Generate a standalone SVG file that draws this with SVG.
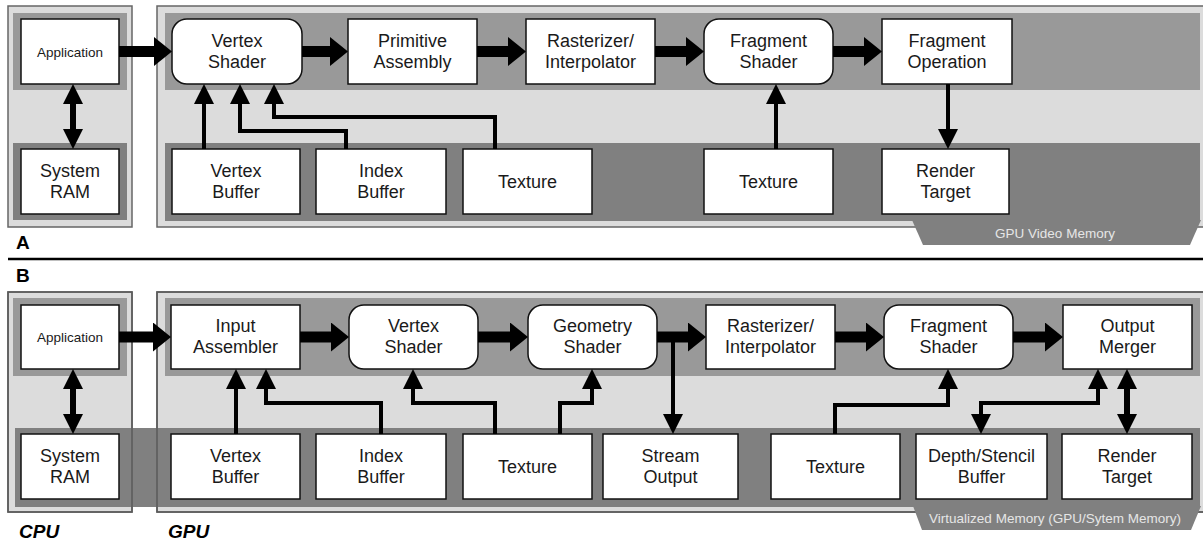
<svg xmlns="http://www.w3.org/2000/svg" width="1203" height="542" viewBox="0 0 1203 542">
<style>
.bg{fill:#dcdcdc;stroke:#666;stroke-width:1.5}
.ol{fill:none;stroke:#5a5a5a;stroke-width:1.5}
.b1{fill:#999}
.b2{fill:#808080}
.n{fill:#fff;stroke:#111;stroke-width:1.5}
.t{font-family:"Liberation Sans",Arial,sans-serif;font-size:18px;fill:#1a1a1a;text-anchor:middle}
.ts{font-family:"Liberation Sans",Arial,sans-serif;font-size:13.5px;fill:#1a1a1a;text-anchor:middle}
.tab{font-family:"Liberation Sans",Arial,sans-serif;font-size:13.5px;fill:#e6e6e6;text-anchor:middle}
.lbl{font-family:"Liberation Sans",Arial,sans-serif;font-size:19px;font-weight:bold;fill:#000}
.thick{fill:none;stroke:#000;stroke-width:11;marker-end:url(#th)}
.thin{fill:none;stroke:#000;stroke-width:4;stroke-linejoin:miter;marker-end:url(#ah)}
.dbl{fill:none;stroke:#000;stroke-width:4;stroke-linejoin:miter;marker-start:url(#ah);marker-end:url(#ah)}
.dblw{fill:none;stroke:#000;stroke-width:6;marker-start:url(#ah);marker-end:url(#ah)}
</style>
<defs>
<marker id="ah" markerUnits="userSpaceOnUse" markerWidth="20" markerHeight="20" refX="0" refY="10" orient="auto-start-reverse" viewBox="0 0 20 20"><path d="M0,0 L20,10 L0,20 z" fill="#000"/></marker>
<marker id="th" markerUnits="userSpaceOnUse" markerWidth="18" markerHeight="29" refX="0" refY="14.5" orient="auto" viewBox="0 0 18 29"><path d="M0,0 L18,14.5 L0,29 z" fill="#000"/></marker>
</defs>

<!-- Panel A background -->
<g id="panelA-bg">
<rect class="bg" x="8" y="6" width="124" height="221"/>
<rect class="b1" x="13" y="13" width="114" height="77"/>
<rect class="b2" x="13" y="143" width="114" height="77"/>
<rect class="bg" x="157" y="6" width="1050" height="221"/>
<rect class="b1" x="165" y="13" width="1035" height="77"/>
<rect class="b2" x="165" y="143" width="1035" height="78"/>
<polygon class="b2" points="912,220 1201,220 1190,245 923,245"/>
<text class="tab" x="1055" y="238">GPU Video Memory</text>
</g>
<text class="lbl" x="16" y="249">A</text>
<line x1="8" y1="259" x2="1203" y2="259" stroke="#000" stroke-width="2.5"/>
<text class="lbl" x="16" y="282">B</text>

<!-- Panel B background -->
<g id="panelB-bg">
<rect class="bg" x="8" y="292" width="124" height="220"/>
<rect class="b1" x="13" y="298" width="114" height="78"/>
<rect class="bg" x="157" y="292" width="1050" height="220"/>
<rect class="b1" x="165" y="298" width="1035" height="78"/>
<rect class="b2" x="15" y="428" width="1185" height="79"/>
<rect class="ol" x="8" y="292" width="124" height="220"/>
<rect class="ol" x="157" y="292" width="1050" height="220"/>
<polygon class="b2" points="913,506 1201,506 1191,530 922,530"/>
<text class="tab" x="1055" y="523">Virtualized Memory (GPU/Sytem Memory)</text>
</g>
<text class="lbl" x="19" y="538" font-style="italic">CPU</text>
<text class="lbl" x="168" y="538" font-style="italic">GPU</text>

<!-- Panel A nodes -->
<g id="a-app"><rect class="n" x="21" y="19" width="98" height="65"/><text class="ts" x="70" y="56.5">Application</text></g>
<g id="a-sysram"><rect class="n" x="21" y="149" width="98" height="65"/><text class="t" x="70" y="177">System</text><text class="t" x="70" y="198">RAM</text></g>
<g id="a-vs"><rect class="n" x="172" y="19" width="130" height="65" rx="15"/><text class="t" x="237" y="47">Vertex</text><text class="t" x="237" y="68">Shader</text></g>
<g id="a-pa"><rect class="n" x="348" y="19" width="129" height="65"/><text class="t" x="412.5" y="47">Primitive</text><text class="t" x="412.5" y="68">Assembly</text></g>
<g id="a-ri"><rect class="n" x="526" y="19" width="129" height="65"/><text class="t" x="590.5" y="47">Rasterizer/</text><text class="t" x="590.5" y="68">Interpolator</text></g>
<g id="a-fs"><rect class="n" x="704" y="19" width="129" height="65" rx="15"/><text class="t" x="768.5" y="47">Fragment</text><text class="t" x="768.5" y="68">Shader</text></g>
<g id="a-fo"><rect class="n" x="882" y="19" width="130" height="65"/><text class="t" x="947" y="47">Fragment</text><text class="t" x="947" y="68">Operation</text></g>
<g id="a-vb"><rect class="n" x="172" y="149" width="128" height="65"/><text class="t" x="236" y="177">Vertex</text><text class="t" x="236" y="198">Buffer</text></g>
<g id="a-ib"><rect class="n" x="316" y="149" width="130" height="65"/><text class="t" x="381" y="177">Index</text><text class="t" x="381" y="198">Buffer</text></g>
<g id="a-tex1"><rect class="n" x="463" y="149" width="129" height="65"/><text class="t" x="527.5" y="187.5">Texture</text></g>
<g id="a-tex2"><rect class="n" x="704" y="149" width="129" height="65"/><text class="t" x="768.5" y="187.5">Texture</text></g>
<g id="a-rt"><rect class="n" x="882" y="149" width="127" height="65"/><text class="t" x="945.5" y="177">Render</text><text class="t" x="945.5" y="198">Target</text></g>

<!-- Panel B nodes -->
<g id="b-app"><rect class="n" x="21" y="305" width="98" height="64"/><text class="ts" x="70" y="342">Application</text></g>
<g id="b-sysram"><rect class="n" x="21" y="434" width="98" height="65"/><text class="t" x="70" y="462">System</text><text class="t" x="70" y="483">RAM</text></g>
<g id="b-ia"><rect class="n" x="171" y="305" width="129" height="64"/><text class="t" x="235.5" y="332">Input</text><text class="t" x="235.5" y="353">Assembler</text></g>
<g id="b-vs"><rect class="n" x="349" y="305" width="129" height="64" rx="15"/><text class="t" x="413.5" y="332">Vertex</text><text class="t" x="413.5" y="353">Shader</text></g>
<g id="b-gs"><rect class="n" x="528" y="305" width="129" height="64" rx="15"/><text class="t" x="592.5" y="332">Geometry</text><text class="t" x="592.5" y="353">Shader</text></g>
<g id="b-ri"><rect class="n" x="706" y="305" width="129" height="64"/><text class="t" x="770.5" y="332">Rasterizer/</text><text class="t" x="770.5" y="353">Interpolator</text></g>
<g id="b-fs"><rect class="n" x="884" y="305" width="129" height="64" rx="15"/><text class="t" x="948.5" y="332">Fragment</text><text class="t" x="948.5" y="353">Shader</text></g>
<g id="b-om"><rect class="n" x="1063" y="305" width="129" height="64"/><text class="t" x="1127.5" y="332">Output</text><text class="t" x="1127.5" y="353">Merger</text></g>
<g id="b-vb"><rect class="n" x="171" y="434" width="129" height="65"/><text class="t" x="235.5" y="462">Vertex</text><text class="t" x="235.5" y="483">Buffer</text></g>
<g id="b-ib"><rect class="n" x="316" y="434" width="130" height="65"/><text class="t" x="381" y="462">Index</text><text class="t" x="381" y="483">Buffer</text></g>
<g id="b-tex1"><rect class="n" x="463" y="434" width="129" height="65"/><text class="t" x="527.5" y="472.5">Texture</text></g>
<g id="b-so"><rect class="n" x="603" y="434" width="135" height="65"/><text class="t" x="670.5" y="462">Stream</text><text class="t" x="670.5" y="483">Output</text></g>
<g id="b-tex2"><rect class="n" x="771" y="434" width="129" height="65"/><text class="t" x="835.5" y="472.5">Texture</text></g>
<g id="b-ds"><rect class="n" x="916" y="434" width="131" height="65"/><text class="t" x="981.5" y="462">Depth/Stencil</text><text class="t" x="981.5" y="483">Buffer</text></g>
<g id="b-rt"><rect class="n" x="1062" y="434" width="130" height="65"/><text class="t" x="1127" y="462">Render</text><text class="t" x="1127" y="483">Target</text></g>

<!-- Connectors -->
<g id="connectors">
<path class="thick" d="M119,51.5 H154"/>
<path class="thick" d="M302,51.5 H330"/>
<path class="thick" d="M477,51.5 H508"/>
<path class="thick" d="M655,51.5 H686"/>
<path class="thick" d="M833,51.5 H864"/>
<path class="dblw" d="M73,104 V129"/>
<path class="thin" d="M204,149 V104"/>
<path class="thin" d="M346,149 V131 H240 V104"/>
<path class="thin" d="M495,149 V117 H274 V104"/>
<path class="thin" d="M776,149 V104"/>
<path class="thin" d="M948,84 V129"/>

<path class="thick" d="M119,337 H153"/>
<path class="thick" d="M300,337 H331"/>
<path class="thick" d="M478,337 H510"/>
<path class="thick" d="M657,337 H688"/>
<path class="thick" d="M835,337 H866"/>
<path class="thick" d="M1013,337 H1045"/>
<path class="dblw" d="M73,389 V414"/>
<path class="thin" d="M236,434 V389"/>
<path class="thin" d="M381,434 V403 H266 V389"/>
<path class="thin" d="M495,434 V403 H413 V389"/>
<path class="thin" d="M560,434 V403 H592 V389"/>
<path class="thin" d="M673,337 V414"/>
<path class="thin" d="M835,434 V405 H948 V389"/>
<path class="dbl" d="M1098,389 V403 H981 V414"/>
<path class="dblw" d="M1127,389 V414"/>
</g>
</svg>
